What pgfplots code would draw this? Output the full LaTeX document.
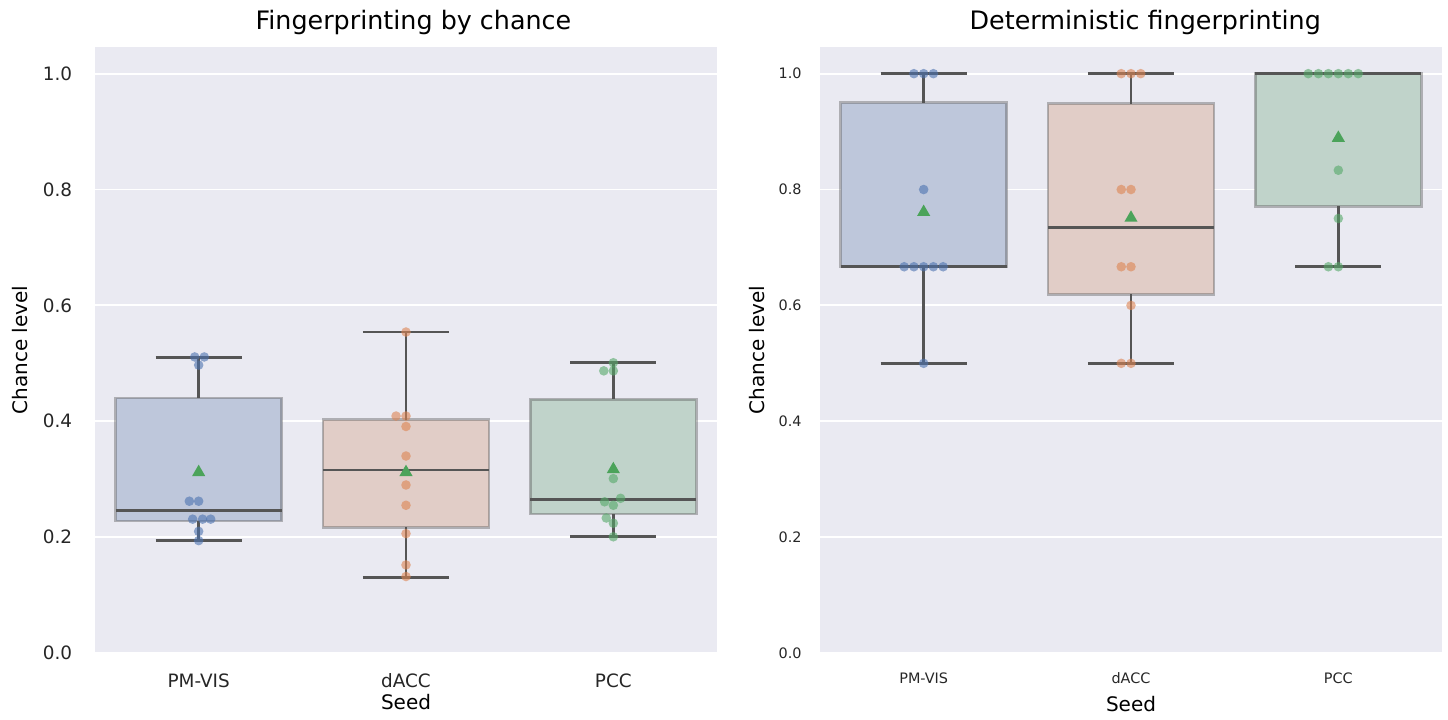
\documentclass[border=0pt]{standalone}
\usepackage{pgfplots}
\pgfplotsset{compat=1.18}
\usepgfplotslibrary{statistics}
\usepackage{fontspec}
\setmainfont{DejaVu Sans}
\definecolor{bgc}{HTML}{EAEAF2}
\definecolor{bxb}{HTML}{BEC7DB}
\definecolor{bxo}{HTML}{E1CDC7}
\definecolor{bxg}{HTML}{C0D3CA}
\definecolor{dgray}{HTML}{555555}
\definecolor{cb}{HTML}{4C72B0}
\definecolor{co}{HTML}{DD8452}
\definecolor{cg}{HTML}{55A868}
\definecolor{cm}{HTML}{4BA35A}
\definecolor{tc}{HTML}{262626}
\pgfplotsset{
  panel/.style={
    scale only axis, width=311pt, height=303pt,
    xmin=-0.5, xmax=2.5, ymin=0, ymax=1.046,
    axis background/.style={fill=bgc},
    axis line style={draw=none},
    ymajorgrids, grid style={white, line width=0.9pt},
    major tick length=0pt,
    xtick={0,1,2}, xticklabels={PM-VIS,dACC,PCC},
    ytick={0,0.2,0.4,0.6,0.8,1.0}, yticklabels={0.0,0.2,0.4,0.6,0.8,1.0},
    tick label style={text=tc, inner sep=0pt},
    xticklabel style={anchor=center},
    yticklabel style={anchor=east},
    every axis title shift=0pt,
    title style={anchor=base, font=\fontsize{12.7}{14}\selectfont, text=black},
    label style={text=tc, font=\fontsize{10.3}{12}\selectfont},
    xlabel={Seed}, ylabel={Chance level},
    boxplot/draw direction=y,
    boxplot/every box/.style={draw=dgray, draw opacity=0.4, line width=1.4pt},
    boxplot/every whisker/.style={draw=dgray, line width=1.4pt},
    boxplot/every median/.style={draw=dgray, line width=1.4pt},
  },
  bxs/.style={draw=dgray, line width=1.4pt, boxplot/every box/.append style={fill=#1}},
  pts/.style={only marks, mark=*, mark size=2.4pt, mark options={draw opacity=0, fill=#1, fill opacity=0.6}},
  mn/.style={only marks, mark=triangle*, mark size=3.8pt, mark options={draw opacity=0, fill=cm}},
}
\begin{document}
\begin{tikzpicture}
\useasboundingbox (0,0) rectangle (724pt,359.5pt);
% ---------------- left panel
\begin{axis}[panel, anchor=south west, at={(47.5pt,33pt)},
  title={Fingerprinting by chance},
  title style={at={(0.512,1)}, yshift=8.8pt},
  tick label style={font=\fontsize{9.2}{11}\selectfont},
  xticklabel style={yshift=-13.7pt},
  yticklabel style={xshift=-11.2pt},
  every axis y label/.style={at={(axis description cs:-0.1206,0.5)}, rotate=90, anchor=center},
  every axis x label/.style={at={(axis description cs:0.5,-0.0817)}, anchor=center},
]
\addplot[bxs=bxb, boxplot prepared={draw position=0, lower whisker=0.194, lower quartile=0.228, median=0.246, upper quartile=0.44, upper whisker=0.51, box extend=0.8, whisker extend=0.415}] coordinates {};
\addplot[bxs=bxo, boxplot prepared={draw position=1, lower whisker=0.131, lower quartile=0.217, median=0.316, upper quartile=0.403, upper whisker=0.554, box extend=0.8, whisker extend=0.415}] coordinates {};
\addplot[bxs=bxg, boxplot prepared={draw position=2, lower whisker=0.2006, lower quartile=0.240, median=0.265, upper quartile=0.438, upper whisker=0.501, box extend=0.8, whisker extend=0.415}] coordinates {};
\addplot[mn] coordinates {(0,0.312) (1,0.312) (2,0.317)};
\addplot[pts=cb] coordinates {(-0.019,0.511) (0.027,0.511) (0,0.497) (-0.045,0.262) (0,0.262) (-0.029,0.231) (0.019,0.231) (0.058,0.231) (0,0.21) (0,0.194)};
\addplot[pts=co] coordinates {(1,0.554) (0.952,0.409) (1,0.409) (1,0.391) (1,0.340) (1,0.290) (1,0.255) (1,0.206) (1,0.152) (1,0.132)};
\addplot[pts=cg] coordinates {(2,0.501) (1.954,0.487) (2,0.487) (2,0.301) (2.035,0.267) (1.958,0.261) (2,0.255) (1.966,0.233) (2,0.224) (2,0.2006)};
\end{axis}
% ---------------- right panel
\begin{axis}[panel, anchor=south west, at={(410pt,33pt)},
  title={Deterministic fingerprinting},
  title style={at={(0.523,1)}, yshift=8.8pt},
  tick label style={font=\fontsize{7.2}{9}\selectfont},
  xticklabel style={yshift=-12.5pt},
  yticklabel style={xshift=-9pt},
  every axis y label/.style={at={(axis description cs:-0.101,0.5)}, rotate=90, anchor=center},
  every axis x label/.style={at={(axis description cs:0.5,-0.084)}, anchor=center},
]
\addplot[bxs=bxb, boxplot prepared={draw position=0, lower whisker=0.5, lower quartile=0.6667, median=0.6667, upper quartile=0.95, upper whisker=1.0, box extend=0.8, whisker extend=0.415}] coordinates {};
\addplot[bxs=bxo, boxplot prepared={draw position=1, lower whisker=0.5, lower quartile=0.619, median=0.734, upper quartile=0.948, upper whisker=1.0, box extend=0.8, whisker extend=0.415}] coordinates {};
\addplot[bxs=bxg, boxplot prepared={draw position=2, lower whisker=0.6667, lower quartile=0.771, median=1.0, upper quartile=1.0, upper whisker=1.0, box extend=0.8, whisker extend=0.415}] coordinates {};
\addplot[mn] coordinates {(0,0.761) (1,0.751) (2,0.889)};
\addplot[pts=cb] coordinates {(-0.047,1.0) (0,1.0) (0.047,1.0) (0,0.8) (-0.094,0.6667) (-0.047,0.6667) (0,0.6667) (0.047,0.6667) (0.094,0.6667) (0,0.5)};
\addplot[pts=co] coordinates {(0.953,1.0) (1,1.0) (1.047,1.0) (0.953,0.8) (1,0.8) (0.953,0.6667) (1,0.6667) (1,0.6) (0.953,0.5) (1,0.5)};
\addplot[pts=cg] coordinates {(1.855,1.0) (1.904,1.0) (1.952,1.0) (2,1.0) (2.048,1.0) (2.096,1.0) (2,0.8333) (2,0.75) (1.952,0.6667) (2,0.6667)};
\end{axis}
\end{tikzpicture}
\end{document}
